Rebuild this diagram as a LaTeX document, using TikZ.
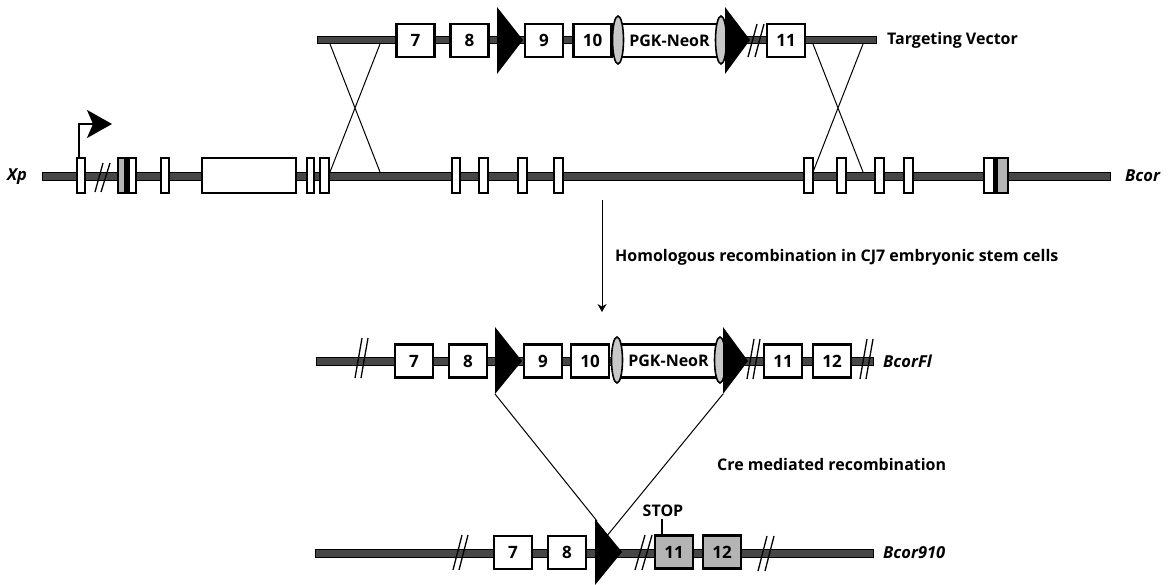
\documentclass[tikz,border=0pt]{standalone}
\usepackage{fontspec}
\setmainfont{Open Sans}
\usetikzlibrary{arrows.meta}
\definecolor{bbgray}{HTML}{474747}
\definecolor{exgray}{HTML}{B4B4B4}
\definecolor{elgray}{HTML}{C8C8C8}
\tikzset{
  backbone/.style={fill=bbgray, draw=black, line width=0.7pt},
  exbox/.style={draw, line width=2.2pt, fill=white, minimum width=38pt,
    minimum height=33pt, inner sep=0pt, font=\fontsize{17}{17}\selectfont\bfseries},
  grbox/.style={exbox, fill=exgray},
  neobox/.style={exbox, minimum width=101pt, font=\fontsize{16}{16}\selectfont\bfseries},
  thin exon/.style={draw, line width=2pt, fill=white},
  loxp/.style={fill=black},
  brk/.style={line width=1.3pt},
  cut/.style={line width=1pt},
  ovoid/.style={draw, line width=1.6pt, fill=elgray},
  lab/.style={font=\fontsize{16}{16}\selectfont\bfseries, anchor=west, inner sep=0pt},
  locus/.style={font=\fontsize{16.5}{16.5}\selectfont\bfseries\itshape, anchor=west, inner sep=0pt}
}
\begin{document}
\begin{tikzpicture}[x=1pt, y=-1pt]
\useasboundingbox (0,0) rectangle (1174,585);

% ---------- targeting vector ----------
\draw[backbone] (317,36.5) rectangle (876,43.5);
\coordinate (tvL1) at (330,44); \coordinate (tvL2) at (380,44);
\coordinate (tvR1) at (813,44); \coordinate (tvR2) at (863,44);
\node[exbox] (t7) at (415.5,40.5) {7};
\node[exbox] (t8) at (469.5,40.5) {8};
\node[exbox] (t9) at (544,40.5) {9};
\node[exbox] (t10) at (592.5,40.5) {10};
\node[neobox] (tneo) at (669.5,40.5) {PGK-NeoR};
\draw[ovoid] (618,40) ellipse [x radius=5.5, y radius=24];
\draw[ovoid] (721,40) ellipse [x radius=5.5, y radius=24];
\fill[loxp] (497,7) -- (523,40) -- (497,74) -- cycle;
\fill[loxp] (725,7) -- (750,40) -- (725,74) -- cycle;
\draw[brk] (748,57) -- (757,24) (755,57) -- (764,24);
\node[exbox] (t11) at (786,40.5) {11};
\node[lab] (tvlab) at (887,40) {Targeting Vector};

% ---------- endogenous locus ----------
\draw[backbone] (42,172) rectangle (1110,180);
\coordinate (gL1) at (330,172); \coordinate (gL2) at (380,172);
\coordinate (gR1) at (813,172); \coordinate (gR2) at (863,172);
\foreach \a/\b in {77/85,161/169,202/296,307/314,320/329,452/460,479/488,
                   518/527,554/563,804/813,837/846,875/884,904/913}
  \draw[thin exon] (\a,158) rectangle (\b,193);
% split exons
\draw[thin exon] (118,158) rectangle (136,193);
\fill[exgray] (119,159) rectangle (124,192);
\fill[black] (124,158) rectangle (130,193);
\draw[thin exon] (984,158) rectangle (1008,193);
\fill[exgray] (998,159) rectangle (1007,192);
\fill[black] (993,158) rectangle (998,193);
\draw[line width=2pt] (984,158) rectangle (1008,193);
\draw[brk] (95,192) -- (103,163) (101,192) -- (110,163);
% promoter
\coordinate (tss) at (79,158);
\coordinate (tssend) at (112,124);
\draw[line width=2pt, -{Stealth[length=25pt, width=28pt, inset=6pt]}]
  (tss) |- (tssend);
\node[locus] (xp) at (7,177) {Xp};
\node[locus] (bcor) at (1125,176) {Bcor};

% homologous arms
\draw[cut] (tvL1) -- (gL2) (tvL2) -- (gL1);
\draw[cut] (tvR1) -- (gR2) (tvR2) -- (gR1);

% recombination step
\coordinate (hr1) at (602,200); \coordinate (hr2) at (602,312);
\draw[line width=1pt, -{Stealth[length=8pt, width=9pt]}] (hr1) -- (hr2);
\node[lab] (hrlab) at (615,257) {Homologous recombination in CJ7 embryonic stem cells};

% ---------- floxed allele ----------
\draw[backbone] (316,357) rectangle (873,365);
\draw[brk] (355,378) -- (362,338) (361,378) -- (368,338);
\node[exbox] (f7) at (414,361) {7};
\node[exbox] (f8) at (468,361) {8};
\node[exbox] (f9) at (543,361) {9};
\node[exbox] (f10) at (590,361) {10};
\node[neobox] (fneo) at (668.5,361) {PGK-NeoR};
\draw[ovoid] (617,360) ellipse [x radius=5.5, y radius=23];
\draw[ovoid] (720,360) ellipse [x radius=5.5, y radius=23];
\coordinate (fl1) at (495,394); \coordinate (fl2) at (723,394);
\fill[loxp] (495,327) -- (522,361) -- (fl1) -- cycle;
\fill[loxp] (723,327) -- (748,361) -- (fl2) -- cycle;
\draw[brk] (747,379) -- (754,339) (753,379) -- (760,339);
\node[exbox] (f11) at (783,361) {11};
\node[exbox] (f12) at (832,361) {12};
\draw[brk] (860,379) -- (867,339) (866,379) -- (873,339);
\node[locus] (bcorfl) at (883,361) {BcorFl};

\node[lab] (crelab) at (717,464) {Cre mediated recombination};

% ---------- deleted allele ----------
\draw[backbone] (315,549) rectangle (873,557);
\draw[brk] (453,570) -- (462,535) (459,570) -- (468,535);
\node[exbox] (d7) at (513,552.5) {7};
\node[exbox] (d8) at (567,552.5) {8};
\coordinate (dl1) at (597,521); \coordinate (dl2) at (606,537);
\fill[loxp] (595,519) -- (622,552) -- (595,585) -- cycle;
\draw[brk] (635,570) -- (645,535) (642,570) -- (652,535);
\node[grbox] (d11) at (674,552) {11};
\node[grbox] (d12) at (722,552) {12};
\draw[brk] (758,571) -- (767,536) (765,571) -- (774,536);
\node[font=\fontsize{16}{16}\selectfont\bfseries, inner sep=0pt] (stop) at (663,511) {STOP};
\draw[line width=1.6pt] (stop.south) ++(-1,2) coordinate (stopa) -- (stopa |- d11.north);
\node[locus] (bcor910) at (883,553) {Bcor910};

% Cre excision lines
\draw[cut] (fl1) -- (dl1);
\draw[cut] (fl2) -- (dl2);
\end{tikzpicture}
\end{document}
